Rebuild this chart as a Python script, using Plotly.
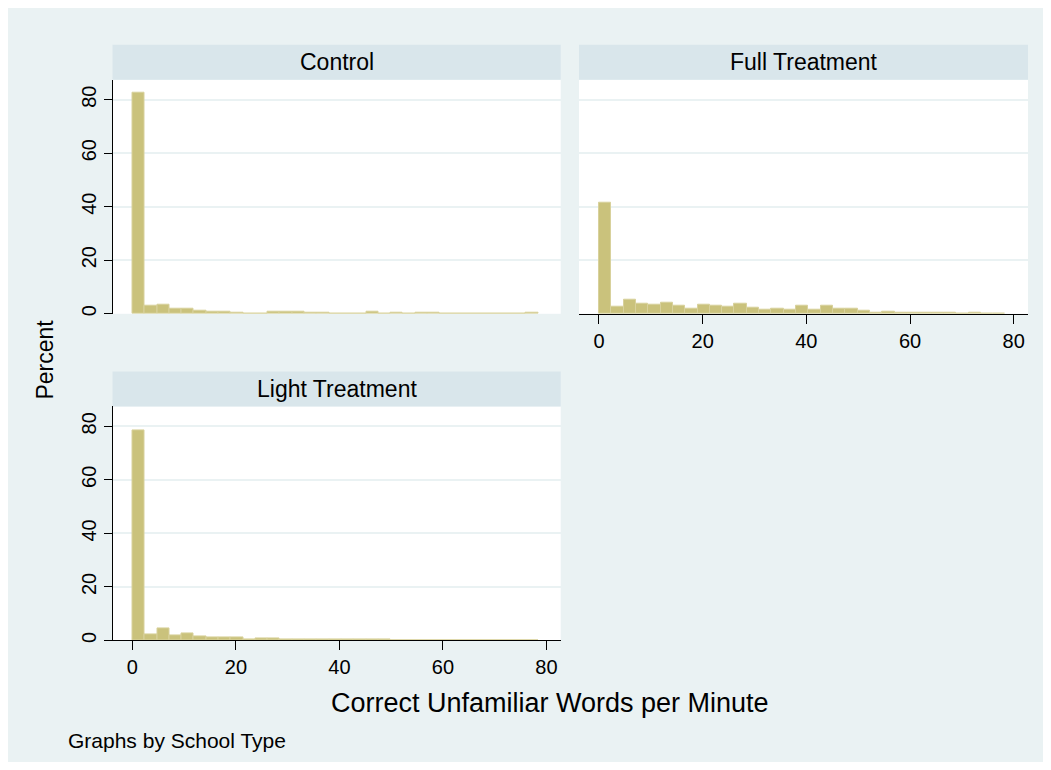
import plotly.graph_objects as go

# figure sits in the page with the browser's 8px body margin
OFF = 8
W, H = 1035, 754

# ---- data (percent per bin), 33 bins starting at 0 ----
bin_width = 2.376
n_bins = 33
control = [82.6, 3.0, 3.3, 1.9, 2.0, 1.0, 0.6, 0.6, 0.4, 0.2, 0.2, 0.9, 0.8, 0.8,
           0.3, 0.3, 0.0, 0.0, 0.0, 0.75, 0.2, 0.5, 0.0, 0.3, 0.3, 0.0, 0.0, 0.0,
           0.0, 0.0, 0.0, 0.0, 0.3]
full = [41.5, 2.55, 5.1, 3.85, 3.3, 4.0, 2.85, 2.0, 3.4, 3.15, 2.55, 3.6, 2.35, 1.45,
        1.9, 1.55, 2.85, 1.5, 2.85, 1.9, 1.9, 1.1, 0.45, 0.75, 0.45, 0.45, 0.25, 0.25,
        0.25, 0.0, 0.25, 0.0, 0.0]
light = [78.4, 2.2, 4.6, 2.0, 2.55, 1.5, 1.0, 1.05, 1.0, 0.4, 0.85, 0.8, 0.45, 0.4,
         0.3, 0.25, 0.45, 0.25, 0.25, 0.25, 0.45, 0.0, 0.0, 0.0, 0.0, 0.0, 0.0, 0.0,
         0.0, 0.0, 0.0, 0.0, 0.0]
panel_titles = ["Control", "Full Treatment", "Light Treatment"]
x_ticks = [0, 20, 40, 60, 80]
y_ticks = [0, 20, 40, 60, 80]

centers = [bin_width * (k + 0.5) for k in range(n_bins)]

BG = "#EAF2F3"
STRIP = "#D9E6EB"
BAR_FILL = "rgb(202,194,124)"
BAR_LINE = "rgb(216,209,156)"
FONT = "Arial, Liberation Sans, sans-serif"

def px_x(p):
    return (p - OFF) / W

def px_y(p):
    return 1 - (p - OFF) / H

# panel geometry in page pixels
L1, R1 = 112.5, 560.7
L2, R2 = 579.0, 1028.0
T1, B1 = 80.0, 315.0
T3, B3 = 408.0, 643.0
strip_h = 35.0
xr = [-3.85, 82.75]
yr = [0, 87.44]

fig = go.Figure()
for vals, xa, ya in [(control, "x", "y"), (full, "x2", "y2"), (light, "x3", "y3")]:
    fig.add_trace(go.Bar(x=centers, y=vals, width=bin_width, xaxis=xa, yaxis=ya,
                         marker=dict(color=BAR_FILL, line=dict(color=BAR_LINE, width=1)),
                         showlegend=False, hoverinfo="skip"))

grid = dict(showgrid=True, gridcolor=BG, gridwidth=1.5)
tickfont = dict(family=FONT, size=20, color="black")

yaxis_on = dict(range=yr, tickvals=y_ticks, tickangle=-90, ticks="outside", ticklen=8,
                tickcolor="black", showline=True, linecolor="black", linewidth=1,
                zeroline=False, tickfont=tickfont, **grid)
yaxis_off = dict(range=yr, tickvals=y_ticks, showticklabels=False, ticks="", showline=False,
                 zeroline=False, **grid)
xaxis_on = dict(range=xr, tickvals=x_ticks, ticks="outside", ticklen=9, tickcolor="black",
                showline=True, linecolor="black", linewidth=1, zeroline=False, showgrid=False,
                tickfont=tickfont)
xaxis_off = dict(range=xr, showticklabels=False, ticks="", showline=False, zeroline=False,
                 showgrid=False)

fig.update_layout(
    width=W, height=H, margin=dict(l=0, r=0, t=0, b=0),
    paper_bgcolor=BG, plot_bgcolor="white", bargap=0,
    font=dict(family=FONT, color="black"),
    xaxis=dict(domain=[px_x(L1), px_x(R1)], anchor="y", **xaxis_off),
    yaxis=dict(domain=[px_y(B1), px_y(T1)], anchor="x", **yaxis_on),
    xaxis2=dict(domain=[px_x(L2), px_x(R2)], anchor="y2", **xaxis_on),
    yaxis2=dict(domain=[px_y(B1), px_y(T1)], anchor="x2", **yaxis_off),
    xaxis3=dict(domain=[px_x(L1), px_x(R1)], anchor="y3", **xaxis_on),
    yaxis3=dict(domain=[px_y(B3), px_y(T3)], anchor="x3", **yaxis_on),
)

shapes = []
annotations = []
for title, (l, r, t) in zip(panel_titles, [(L1, R1, T1), (L2, R2, T1), (L1, R1, T3)]):
    shapes.append(dict(type="rect", xref="paper", yref="paper",
                       x0=px_x(l), x1=px_x(r), y0=px_y(t), y1=px_y(t - strip_h),
                       fillcolor=STRIP, line=dict(width=0), layer="below"))
    annotations.append(dict(text=title, xref="paper", yref="paper", x=px_x((l + r) / 2),
                            y=px_y(t - strip_h / 2), showarrow=False, xanchor="center",
                            yanchor="middle", font=dict(family=FONT, size=23, color="black")))

annotations.append(dict(text="Percent", xref="paper", yref="paper", x=px_x(45), y=px_y(361),
                        textangle=-90, showarrow=False, xanchor="center", yanchor="middle",
                        font=dict(family=FONT, size=23, color="black")))
annotations.append(dict(text="Correct Unfamiliar Words per Minute", xref="paper", yref="paper",
                        x=px_x(550), y=px_y(706), showarrow=False, xanchor="center",
                        yanchor="middle", font=dict(family=FONT, size=27, color="black")))
annotations.append(dict(text="Graphs by School Type", xref="paper", yref="paper",
                        x=px_x(66), y=px_y(743), showarrow=False, xanchor="left",
                        yanchor="middle", font=dict(family=FONT, size=21, color="black")))

fig.update_layout(shapes=shapes, annotations=annotations)
fig.write_html("out.html")
